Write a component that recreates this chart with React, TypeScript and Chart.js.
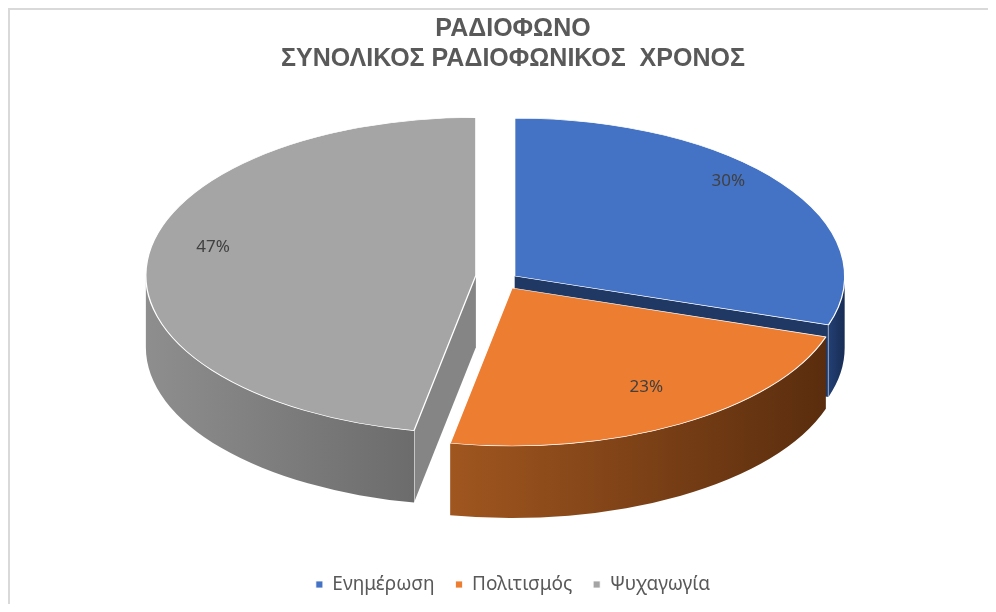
import React, { useEffect, useRef } from "react";
import { Chart, registerables } from "chart.js";

Chart.register(...registerables);

// ---- data ----
const titleLines = ["ΡΑΔΙΟΦΩΝΟ", "ΣΥΝΟΛΙΚΟΣ ΡΑΔΙΟΦΩΝΙΚΟΣ  ΧΡΟΝΟΣ"];
const categories = ["Ενημέρωση", "Πολιτισμός", "Ψυχαγωγία"];
const shares = [30, 23, 47];

// ---- style ----
const explodeAmount = [2, 0, 22]; // distance along slice mid-angle (library units)
const EXPLODE_LIFT = 11; // exploded slices are drawn slightly raised (px)
const topColors = ["#4472C4", "#ED7D31", "#A5A5A5"];
const sideLight = ["#233f73", "#a0561f", "#8e8e8e"];
const sideDark = ["#182c55", "#5a2d0e", "#6c6c6c"];
const faceColors = ["#1f3864", "#7a3f14", "#858585"];
const RX = 330; // projected horizontal radius (px)
const RY = 158; // projected vertical radius (px)
const DEPTH = 72; // side thickness (px)
const PIE_R = 200; // library radius before projection
const SHIFT_X = -1;
const SHIFT_Y = 5;
const LABEL_LIFT = -16;
const LABEL_FX = 0.8;
const LABEL_FY = 0.85;

const frame = {
  id: "frame",
  beforeDraw(chart: any) {
    const ctx = chart.ctx;
    ctx.save();
    ctx.strokeStyle = "#d9d9d9";
    ctx.lineWidth = 2;
    ctx.beginPath();
    ctx.moveTo(1, chart.height);
    ctx.lineTo(1, 1);
    ctx.lineTo(chart.width, 1);
    ctx.stroke();
    ctx.restore();
  },
};

const pie3d = {
  id: "pie3d",
  beforeDatasetsDraw(chart: any) {
    const meta = chart.getDatasetMeta(0);
    const arcs = meta.data;
    if (!arcs.length) return;
    const a0 = arcs[0];
    const cx = a0.x;
    const cy = a0.y;
    const R = a0.outerRadius;
    const sx = RX / R;
    const sy = RY / R;
    const ca = chart.chartArea;
    const tx = (ca.left + ca.right) / 2 + SHIFT_X;
    const ty = (ca.top + ca.bottom) / 2 - DEPTH / 2 + SHIFT_Y;
    const ctx = chart.ctx;
    ctx.save();
    ctx.translate(tx, ty);
    ctx.scale(sx, sy);
    ctx.translate(-cx, -cy);
    const D = DEPTH / sy;
    const saved: any[] = [];
    const geo = arcs.map((arc: any, i: number) => {
      const half = (arc.startAngle + arc.endAngle) / 2;
      const e = explodeAmount[i] || 0;
      saved.push({ x: arc.x, y: arc.y });
      arc.x = arc.x + Math.cos(half) * e;
      arc.y = arc.y + Math.sin(half) * e - (e > 0 ? EXPLODE_LIFT / sy : 0);
      return {
        x: arc.x,
        y: arc.y,
        r: arc.outerRadius,
        s: arc.startAngle,
        e: arc.endAngle,
        i,
      };
    });
    chart.$pie3d = { cx, cy, sx, sy, tx, ty, geo, saved };

    // radial (cut) faces
    geo.forEach((g: any) => {
      const faces: number[] = [];
      if (Math.cos(g.s) < -1e-6) faces.push(g.s);
      if (Math.cos(g.e) > 1e-6) faces.push(g.e);
      faces.forEach((a) => {
        const px = g.x + g.r * Math.cos(a);
        const py = g.y + g.r * Math.sin(a);
        ctx.beginPath();
        ctx.moveTo(g.x, g.y);
        ctx.lineTo(px, py);
        ctx.lineTo(px, py + D);
        ctx.lineTo(g.x, g.y + D);
        ctx.closePath();
        ctx.fillStyle = faceColors[g.i];
        ctx.fill();
        ctx.lineWidth = 0.8;
        ctx.strokeStyle = "rgba(255,255,255,0.8)";
        ctx.beginPath();
        ctx.moveTo(px, py);
        ctx.lineTo(px, py + D);
        ctx.stroke();
      });
    });

    // outer curved sides
    geo.forEach((g: any) => {
      for (let k = -1; k <= 1; k++) {
        const lo = Math.max(g.s, 2 * Math.PI * k);
        const hi = Math.min(g.e, 2 * Math.PI * k + Math.PI);
        if (hi - lo <= 1e-4) continue;
        const xl = g.x + g.r * Math.cos(hi);
        const xr = g.x + g.r * Math.cos(lo);
        const grad = ctx.createLinearGradient(Math.min(xl, xr), 0, Math.max(xl, xr) + 0.01, 0);
        grad.addColorStop(0, sideLight[g.i]);
        grad.addColorStop(1, sideDark[g.i]);
        ctx.beginPath();
        ctx.arc(g.x, g.y, g.r, lo, hi);
        ctx.arc(g.x, g.y + D, g.r, hi, lo, true);
        ctx.closePath();
        ctx.fillStyle = grad;
        ctx.fill();
      }
    });
  },
  afterDatasetsDraw(chart: any) {
    const st = chart.$pie3d;
    if (!st) return;
    const ctx = chart.ctx;
    ctx.restore();
    const arcs = chart.getDatasetMeta(0).data;
    st.saved.forEach((p: any, i: number) => {
      arcs[i].x = p.x;
      arcs[i].y = p.y;
    });
    const data = chart.data.datasets[0].data as number[];
    const total = data.reduce((a: number, b: number) => a + b, 0);
    ctx.save();
    ctx.font = "17px 'Noto Sans', sans-serif";
    ctx.fillStyle = "#404040";
    ctx.textAlign = "center";
    ctx.textBaseline = "middle";
    st.geo.forEach((g: any, i: number) => {
      const mid = (g.s + g.e) / 2;
      const px = g.x + LABEL_FX * g.r * Math.cos(mid);
      const py = g.y + LABEL_FY * g.r * Math.sin(mid);
      const X = st.tx + (px - st.cx) * st.sx;
      const Y = st.ty + (py - st.cy) * st.sy + LABEL_LIFT;
      ctx.fillText(Math.round((data[i] / total) * 100) + "%", X, Y);
    });
    ctx.restore();
  },
};

export default function App() {
  const ref = useRef<HTMLCanvasElement | null>(null);
  useEffect(() => {
    if (!ref.current) return;
    const chart = new Chart(ref.current, {
      type: "pie",
      data: {
        labels: categories,
        datasets: [
          {
            data: shares,
            backgroundColor: topColors,
            borderColor: "#ffffff",
            borderWidth: 0.8,
            hoverOffset: 0,
            clip: false as any,
          } as any,
        ],
      },
      options: {
        animation: false,
        responsive: false,
        radius: PIE_R,
        layout: { padding: { left: 30, right: 0, top: 0, bottom: 0 } },
        plugins: {
          title: {
            display: true,
            text: titleLines,
            color: "#595959",
            font: { family: "'Liberation Sans', Arial, sans-serif", size: 25, weight: "bold", lineHeight: 1.2 },
            padding: { top: 6, bottom: 10 },
          },
          legend: {
            position: "bottom",
            labels: {
              color: "#595959",
              font: { family: "'Noto Sans', sans-serif", size: 19 },
              boxWidth: 7,
              boxHeight: 7,
              padding: 21,
            },
          },
          tooltip: { enabled: false },
        },
      } as any,
      plugins: [frame, pie3d],
    });
    return () => chart.destroy();
  }, []);
  return <canvas ref={ref} width={980} height={596} style={{ display: "block" }} />;
}
